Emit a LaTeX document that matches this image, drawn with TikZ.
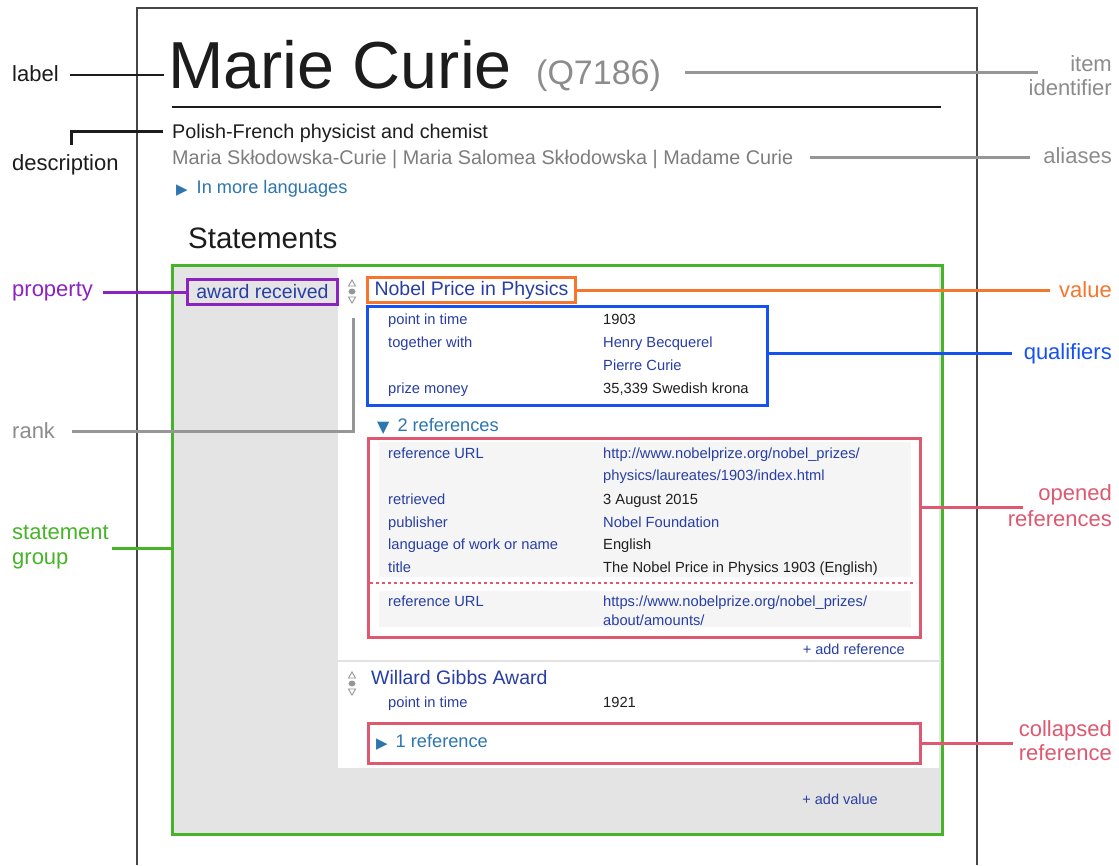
\documentclass[tikz,border=0pt]{standalone}
\usepackage{fontspec}
\setmainfont{Liberation Sans}
\newfontfamily\symfont{DejaVu Sans}
\usetikzlibrary{calc}
\definecolor{framec}{RGB}{70,70,70}
\definecolor{titlec}{RGB}{28,28,28}
\definecolor{grn}{RGB}{70,180,40}
\definecolor{prp}{RGB}{140,34,192}
\definecolor{org}{RGB}{247,118,45}
\definecolor{blu}{RGB}{22,82,240}
\definecolor{pnk}{RGB}{222,88,112}
\definecolor{gry}{RGB}{140,140,140}
\definecolor{lgry}{RGB}{150,150,150}
\definecolor{alic}{RGB}{125,125,125}
\definecolor{lnk}{RGB}{40,62,165}
\definecolor{uic}{RGB}{45,118,175}
\definecolor{valc}{RGB}{30,30,30}
\definecolor{fillg}{RGB}{228,228,228}
\definecolor{rowg}{RGB}{245,245,245}
\definecolor{sepc}{RGB}{226,226,226}
\definecolor{rankc}{RGB}{150,150,150}
\newcommand\myfs[1]{\fontsize{#1}{#1}\selectfont}
\begin{document}
\begin{tikzpicture}[x=1pt,y=-1pt,
  lab/.style={inner sep=0pt, font=\myfs{22}, yshift=-5pt},
  t/.style={inner sep=0pt, anchor=mid west},
  k/.style={t, font=\myfs{14.7}, text=lnk, yshift=-3.5pt},
  v/.style={t, font=\myfs{14.7}, text=valc, yshift=-3.5pt},
  box/.style={draw, line width=3pt, inner sep=0pt, anchor=north west},
  conn/.style={line width=3pt},
  bconn/.style={line width=2.5pt, draw=titlec},
  rankicon/.style={draw=rankc, line width=0.9pt},
]
\useasboundingbox (0,0) rectangle (1119,865);
\fill[white] (0,0) rectangle (1119,865);

% page frame
\draw[framec, line width=2pt] (137,865) -- (137,8) -- (977,8) -- (977,865);

% header
\node[inner xsep=4pt, inner ysep=0pt, anchor=base west, font=\myfs{66.5}, text=titlec] (title) at (164,88) {Marie Curie};
\node[inner sep=0pt, anchor=base west, font=\myfs{34}, text=gry] (qid) at (536,84) {(Q7186)};
\draw[line width=2.5pt, titlec] (172,107) -- (941,107);
\node[t, font=\myfs{19.8}, text=valc, yshift=-4.5pt] (dtext) at (172,131) {Polish-French physicist and chemist};
\node[t, font=\myfs{19.8}, text=alic, yshift=-4.5pt] (atext) at (172,157) {Maria Skłodowska-Curie | Maria Salomea Skłodowska | Madame Curie};
\node[t, font=\myfs{18.2}, text=uic, yshift=-4pt] (more) at (176,187) {{\symfont\myfs{15}\raisebox{-0.5pt}{▶}}\hspace{9pt}In more languages};
\node[t, font=\myfs{29.5}, text=titlec, yshift=-7.5pt] (stmt) at (188,238) {Statements};

% statement group background
\fill[fillg] (171,264) rectangle (941,833);
\fill[white] (338,267) rectangle (939,768);
\fill[rowg] (379,442) rectangle (911,577);
\fill[rowg] (379,591) rectangle (911,627);
\draw[sepc, line width=2pt] (338,661) -- (939,661);

% boxes
\node[box, draw=grn, minimum width=770pt, minimum height=569pt] (grp) at (171,264) {};
\node[box, draw=prp, minimum width=150pt, minimum height=25pt, font=\myfs{19.5}, text=lnk] (awd) at (186,278) {award received};
\node[box, draw=org, minimum width=208pt, minimum height=25pt, font=\myfs{19.5}, text=lnk] (val) at (366,276) {Nobel Price in Physics};
\node[box, draw=blu, minimum width=400pt, minimum height=99pt] (qual) at (366,305) {};
\node[box, draw=pnk, minimum width=552pt, minimum height=199pt] (oref) at (367,437) {};
\node[box, draw=pnk, minimum width=552pt, minimum height=40pt] (cref) at (367,722) {};
\draw[pnk, line width=2pt, dash pattern=on 3pt off 3pt] (370,583) -- (916,583);

% rank icons
\draw[rankicon] (348.5,286) -- (355.5,286) -- (352,280) -- cycle;
\fill[rankc] (352,291.5) ellipse (3.4 and 2.9);
\draw[rankicon] (348.5,297) -- (355.5,297) -- (352,303) -- cycle;
\coordinate (rk1) at (353.5,304);
\draw[rankicon] (348.5,678) -- (355.5,678) -- (352,672) -- cycle;
\fill[rankc] (352,683.5) ellipse (3.4 and 2.9);
\draw[rankicon] (348.5,689) -- (355.5,689) -- (352,695) -- cycle;

% qualifiers
\node[k] (q1k) at (388,318) {point in time};
\node[v] (q1v) at (603,318) {1903};
\node[k] (q2k) at (388,341) {together with};
\node[k] (q2v) at (603,341) {Henry Becquerel};
\node[k] (q3v) at (603,364) {Pierre Curie};
\node[k] (q4k) at (388,387) {prize money};
\node[v] (q4v) at (603,387) {35,339 Swedish krona};

% references
\node[t, font=\myfs{18.2}, text=uic, yshift=-4pt] (refs) at (377,425) {{\symfont\myfs{16}\raisebox{-0.5pt}{▼}}\hspace{8pt}2 references};
\node[k] (r1k) at (388,452) {reference URL};
\node[k] (r1v) at (603,452) {http://www.nobelprize.org/nobel\_prizes/};
\node[k] (r1w) at (603,474) {physics/laureates/1903/index.html};
\node[k] (r2k) at (388,498) {retrieved};
\node[v] (r2v) at (603,498) {3 August 2015};
\node[k] (r3k) at (388,521) {publisher};
\node[k] (r3v) at (603,521) {Nobel Foundation};
\node[k] (r4k) at (388,543) {language of work or name};
\node[v] (r4v) at (603,543) {English};
\node[k] (r5k) at (388,566) {title};
\node[v] (r5v) at (603,566) {The Nobel Price in Physics 1903 (English)};
\node[k] (r6k) at (388,600) {reference URL};
\node[k] (r6v) at (603,600) {https://www.nobelprize.org/nobel\_prizes/};
\node[k] (r6w) at (603,619) {about/amounts/};
\node[inner sep=0pt, anchor=mid east, font=\myfs{14.5}, text=lnk, yshift=-3.5pt] (addref) at (905,648) {+ add reference};

% second statement
\node[t, font=\myfs{19.5}, text=lnk, yshift=-4.5pt] (wga) at (371,677) {Willard Gibbs Award};
\node[k] (w1k) at (388,701) {point in time};
\node[v] (w1v) at (603,701) {1921};
\node[t, font=\myfs{18.2}, text=uic, yshift=-4pt] (oneref) at (376,741) {{\symfont\myfs{15}\raisebox{-0.5pt}{▶}}\hspace{8pt}1 reference};
\node[inner sep=0pt, anchor=mid east, font=\myfs{14.5}, text=lnk, yshift=-3.5pt] (addval) at (878,798) {+ add value};

% annotation labels
\node[lab, anchor=mid west, text=titlec] (lbl) at (12,74) {label};
\node[lab, anchor=mid west, text=titlec] (desc) at (12,163) {description};
\node[lab, anchor=mid east, text=gry] (item) at (1112,64) {item};
\node[lab, anchor=mid east, text=gry] (iden) at (1112,88) {identifier};
\node[lab, anchor=mid east, text=gry] (ali) at (1112,156) {aliases};
\node[lab, anchor=mid west, text=prp] (prop) at (12,289) {property};
\node[lab, anchor=mid east, text=org] (vlab) at (1112,290) {value};
\node[lab, anchor=mid east, text=blu] (qlab) at (1112,352) {qualifiers};
\node[lab, anchor=mid west, text=gry] (rank) at (12,431) {rank};
\node[lab, anchor=mid east, text=pnk] (op1) at (1112,493) {opened};
\node[lab, anchor=mid east, text=pnk] (op2) at (1112,519) {references};
\node[lab, anchor=mid west, text=grn] (sg1) at (12,532) {statement};
\node[lab, anchor=mid west, text=grn] (sg2) at (12,557) {group};
\node[lab, anchor=mid east, text=pnk] (co1) at (1112,729) {collapsed};
\node[lab, anchor=mid east, text=pnk] (co2) at (1112,753) {reference};

% connectors
\draw[bconn] ($(lbl.mid east)+(11,-4)$) -- ($(lbl.mid east -| title.west)+(0,-4)$);
\draw[bconn] ($(dtext.mid west)+(-9,-4)$) -| ($(desc.north)+(6,-10)$);
\draw[conn, lgry] ($(qid.base east)+(24,-12)$) -- ($(qid.base east -| iden.west)+(10,-12)$);
\draw[conn, lgry] ($(atext.mid east)+(17,-4.5)$) -- ($(atext.mid east -| ali.west)+(-13,-4.5)$);
\draw[conn, prp] ($(awd.west -| prop.east)+(10,0)$) -- (awd.west);
\draw[conn, org] (val.east) -- ($(val.east -| vlab.west)+(-9,0)$);
\draw[conn, blu] ($(qual.east)+(0,-3)$) -- ($(qual.east -| qlab.west)+(-12,-3)$);
\draw[conn, lgry] ($(rank.mid east)+(17,-5)$) -| ($(rk1)+(0,14)$);
\draw[conn, pnk] ($(oref.east |- op1.mid west)+(0,9)$) -- ($(op1.mid west)+(-15,9)$);
\draw[conn, grn] ($(sg1.mid east)+(3,11)$) -- ($(sg1.mid east -| grp.west)+(0,11)$);
\draw[conn, pnk] (cref.east) -- ($(cref.east -| co1.west)+(-6,0)$);
\end{tikzpicture}
\end{document}
